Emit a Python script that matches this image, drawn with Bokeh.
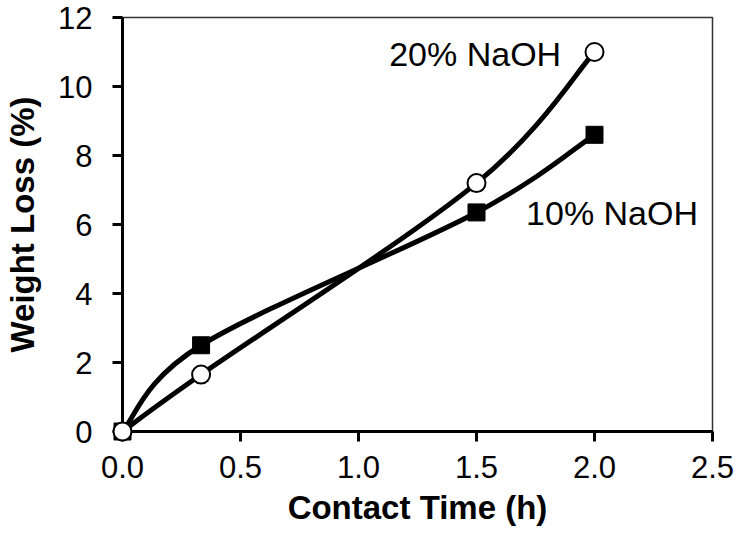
from bokeh.plotting import figure
from bokeh.models import ColumnDataSource, FixedTicker, Range1d
from bokeh.core.properties import value
from bokeh.embed import file_html
from bokeh.resources import INLINE

# ---- data ----
time_h = [0.0, 0.333, 1.5, 2.0]
loss_10 = [0.0, 2.5, 6.35, 8.6]     # 10% NaOH (filled squares)
loss_20 = [0.0, 1.65, 7.2, 11.0]    # 20% NaOH (open circles)
x_ticks = [0.0, 0.5, 1.0, 1.5, 2.0, 2.5]
y_ticks = [0, 2, 4, 6, 8, 10, 12]
series_names = ["10% NaOH", "20% NaOH"]

FONT = "Liberation Sans"
W, H = 734, 534
BL, BR, BT, BB = 122, 22, 17, 103
XMAX, YMAX = 2.5, 12

p = figure(width=W, height=H, output_backend="svg", toolbar_location=None,
           x_range=Range1d(0, XMAX), y_range=Range1d(0, YMAX),
           min_border_left=BL, min_border_right=BR, min_border_top=BT,
           min_border_bottom=BB)
p.grid.visible = False
p.outline_line_color = "#333333"
p.outline_line_width = 1.5
p.background_fill_color = "white"
p.border_fill_color = "white"

# pixel scale factors (smoothing is done in screen-like space as Excel does)
sx = (W - BL - BR) / XMAX
sy = (H - BT - BB) / YMAX


def smooth(xs, ys):
    """Excel-like smoothed line: cubic Bezier segments with Catmull-Rom tangents."""
    n = len(xs)
    px = [x * sx for x in xs]
    py = [y * sy for y in ys]
    d = dict(x0=[], y0=[], x1=[], y1=[], cx0=[], cy0=[], cx1=[], cy1=[])
    for i in range(n - 1):
        im1 = max(i - 1, 0)
        ip2 = min(i + 2, n - 1)
        c0x = px[i] + (px[i + 1] - px[im1]) / 6
        c0y = py[i] + (py[i + 1] - py[im1]) / 6
        c1x = px[i + 1] - (px[ip2] - px[i]) / 6
        c1y = py[i + 1] - (py[ip2] - py[i]) / 6
        d["x0"].append(xs[i]); d["y0"].append(ys[i])
        d["x1"].append(xs[i + 1]); d["y1"].append(ys[i + 1])
        d["cx0"].append(c0x / sx); d["cy0"].append(c0y / sy)
        d["cx1"].append(c1x / sx); d["cy1"].append(c1y / sy)
    return ColumnDataSource(d)


p.bezier(x0="x0", y0="y0", x1="x1", y1="y1", cx0="cx0", cy0="cy0", cx1="cx1", cy1="cy1",
         source=smooth(time_h, loss_10), line_color="black", line_width=5)
p.bezier(x0="x0", y0="y0", x1="x1", y1="y1", cx0="cx0", cy0="cy0", cx1="cx1", cy1="cy1",
         source=smooth(time_h, loss_20), line_color="black", line_width=5)

p.scatter(time_h, loss_10, marker="square", size=17, fill_color="black", line_color="black",
          level="overlay")
p.scatter(time_h, loss_20, marker="circle", size=18, fill_color="white",
          line_color="black", line_width=2, level="overlay")

# series labels
p.text(x=[1.13], y=[10.95], text=[series_names[1]], text_font=value(FONT),
       text_font_size="34px", text_align="left", text_baseline="middle", text_color="black")
p.text(x=[1.71], y=[6.33], text=[series_names[0]], text_font=value(FONT),
       text_font_size="34px", text_align="left", text_baseline="middle", text_color="black")

for ax in (p.xaxis[0], p.yaxis[0]):
    ax.axis_line_width = 3
    ax.axis_line_color = "black"
    ax.major_tick_line_width = 3
    ax.major_tick_line_color = "black"
    ax.major_tick_out = 10
    ax.major_tick_in = 0
    ax.minor_tick_out = 0
    ax.minor_tick_in = 0
    ax.major_label_text_font = FONT
    ax.major_label_text_font_size = "31px"
    ax.major_label_text_color = "black"
    ax.axis_label_text_font = FONT
    ax.axis_label_text_font_size = "33px"
    ax.axis_label_text_font_style = "bold"
    ax.axis_label_text_color = "black"

p.xaxis[0].ticker = FixedTicker(ticks=x_ticks)
p.xaxis[0].major_label_overrides = {t: f"{t:.1f}" for t in x_ticks}
p.yaxis[0].ticker = FixedTicker(ticks=y_ticks)
p.xaxis[0].axis_label = "Contact Time (h)"
p.yaxis[0].axis_label = "Weight Loss (%)"
p.xaxis[0].major_label_standoff = 14
p.xaxis[0].axis_label_standoff = 8
p.yaxis[0].major_label_standoff = 20
p.yaxis[0].axis_label_standoff = 14

open("out.html", "w").write(file_html(p, INLINE))
